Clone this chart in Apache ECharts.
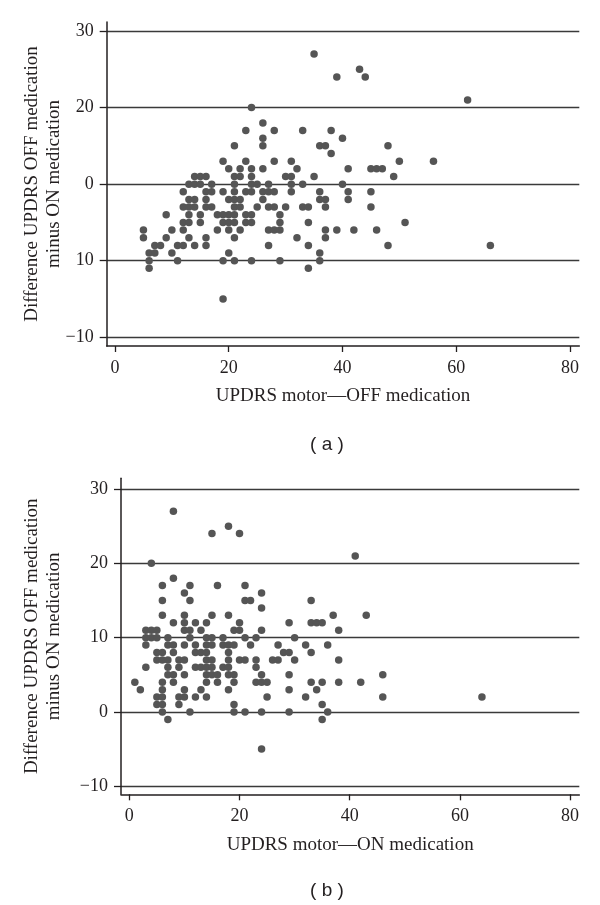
<!DOCTYPE html>
<html><head><meta charset="utf-8">
<script src="https://cdn.jsdelivr.net/npm/echarts@6/dist/echarts.min.js"></script>
<style>html,body{margin:0;padding:0;background:#fff}#c{width:600px;height:905px}</style>
</head><body><div id="c"></div>
<script>
// Tick values and labels
const xTicks = [0, 20, 40, 60, 80];
const yTicks = [-10, 0, 10, 20, 30];
const yTickLabelsA = ['\u221210', '10', '0', '20', '30'];
const yTickLabelsB = ['\u221210', '0', '10', '20', '30'];
const yNameText = 'Difference UPDRS OFF medication\nminus ON medication';
const xNameA = 'UPDRS motor\u2014OFF medication';
const xNameB = 'UPDRS motor\u2014ON medication';
const panelA = '( a )';
const panelB = '( b )';

// Panel (a): UPDRS motor OFF medication vs difference
const offScoreA = [35, 43, 39, 44, 62, 24, 26, 23, 28, 33, 38, 26, 40, 21, 26, 36, 37, 48, 38,
  19, 23, 28, 31, 50, 56, 20, 22, 24, 26, 32, 41, 45, 46, 47,
  14, 15, 16, 21, 22, 24, 30, 31, 35, 49,
  13, 14, 15, 17, 21, 24, 25, 27, 31, 33, 40,
  12, 16, 17, 19, 21, 23, 24, 26, 27, 28, 31, 36, 41, 45,
  13, 14, 16, 20, 21, 22, 26, 36, 37, 41,
  12, 13, 14, 16, 17, 21, 22, 25, 27, 28, 30, 33, 34, 37, 45,
  9, 13, 15, 18, 19, 20, 21, 23, 24, 29,
  12, 13, 15, 19, 20, 21, 23, 24, 29, 34, 51,
  5, 10, 12, 18, 20, 22, 27, 28, 29, 37, 39, 42, 46,
  5, 9, 13, 16, 21, 32, 37,
  7, 8, 11, 12, 14, 16, 27, 34, 48, 66,
  6, 7, 10, 20, 36,
  6, 11, 19, 21, 24, 29, 36,
  6, 34,
  19];
const diffA = [27, 25, 24, 24, 21, 20, 18, 17, 17, 17, 17, 16, 16, 15, 15, 15, 15, 15, 14,
  13, 13, 13, 13, 13, 13, 12, 12, 12, 12, 12, 12, 12, 12, 12,
  11, 11, 11, 11, 11, 11, 11, 11, 11, 11,
  10, 10, 10, 10, 10, 10, 10, 10, 10, 10, 10,
  9, 9, 9, 9, 9, 9, 9, 9, 9, 9, 9, 9, 9, 9,
  8, 8, 8, 8, 8, 8, 8, 8, 8, 8,
  7, 7, 7, 7, 7, 7, 7, 7, 7, 7, 7, 7, 7, 7, 7,
  6, 6, 6, 6, 6, 6, 6, 6, 6, 6,
  5, 5, 5, 5, 5, 5, 5, 5, 5, 5, 5,
  4, 4, 4, 4, 4, 4, 4, 4, 4, 4, 4, 4, 4,
  3, 3, 3, 3, 3, 3, 3,
  2, 2, 2, 2, 2, 2, 2, 2, 2, 2,
  1, 1, 1, 1, 1,
  0, 0, 0, 0, 0, 0, 0,
  -1, -1,
  -5];

// Panel (b): UPDRS motor ON medication vs difference
const onScoreB = [8, 18, 15, 20, 41, 4, 8, 6, 11, 16, 21, 10, 24, 6, 11, 21, 22, 33, 24,
  6, 10, 15, 18, 37, 43, 8, 10, 12, 14, 20, 29, 33, 34, 35,
  3, 4, 5, 10, 11, 13, 19, 20, 24, 38,
  3, 4, 5, 7, 11, 14, 15, 17, 21, 23, 30,
  3, 7, 8, 10, 12, 14, 15, 17, 18, 19, 22, 27, 32, 36,
  5, 6, 8, 12, 13, 14, 18, 28, 29, 33,
  5, 6, 7, 9, 10, 14, 15, 18, 20, 21, 23, 26, 27, 30, 38,
  3, 7, 9, 12, 13, 14, 15, 17, 18, 23,
  7, 8, 10, 14, 15, 16, 18, 19, 24, 29, 46,
  1, 6, 8, 14, 16, 19, 23, 24, 25, 33, 35, 38, 42,
  2, 6, 10, 13, 18, 29, 34,
  5, 6, 9, 10, 12, 14, 25, 32, 46, 64,
  5, 6, 9, 19, 35,
  6, 11, 19, 21, 24, 29, 36,
  7, 35,
  24];
const diffB = [27, 25, 24, 24, 21, 20, 18, 17, 17, 17, 17, 16, 16, 15, 15, 15, 15, 15, 14,
  13, 13, 13, 13, 13, 13, 12, 12, 12, 12, 12, 12, 12, 12, 12,
  11, 11, 11, 11, 11, 11, 11, 11, 11, 11,
  10, 10, 10, 10, 10, 10, 10, 10, 10, 10, 10,
  9, 9, 9, 9, 9, 9, 9, 9, 9, 9, 9, 9, 9, 9,
  8, 8, 8, 8, 8, 8, 8, 8, 8, 8,
  7, 7, 7, 7, 7, 7, 7, 7, 7, 7, 7, 7, 7, 7, 7,
  6, 6, 6, 6, 6, 6, 6, 6, 6, 6,
  5, 5, 5, 5, 5, 5, 5, 5, 5, 5, 5,
  4, 4, 4, 4, 4, 4, 4, 4, 4, 4, 4, 4, 4,
  3, 3, 3, 3, 3, 3, 3,
  2, 2, 2, 2, 2, 2, 2, 2, 2, 2,
  1, 1, 1, 1, 1,
  0, 0, 0, 0, 0, 0, 0,
  -1, -1,
  -5];

const serif = '"Liberation Serif", "DejaVu Serif", serif';
const ink = '#231f20';
const fs = 18;
const nameFs = 19;

function pairs(xs, ys) { return xs.map((x, i) => [x, ys[i]]); }

function xAxisCfg(gridIndex, min, max, name) {
  return {
    type: 'value', gridIndex, min, max,
    axisLine: { show: true, onZero: false, lineStyle: { color: ink, width: 1.5 } },
    axisTick: { show: true, customValues: xTicks, length: 6, lineStyle: { color: ink, width: 1.3 } },
    axisLabel: { customValues: xTicks, margin: 13, fontFamily: serif, fontSize: fs, color: ink },
    splitLine: { show: false },
    name, nameLocation: 'middle', nameGap: 41, nameMoveOverlap: false,
    nameTextStyle: { fontFamily: serif, fontSize: nameFs, color: ink }
  };
}
function yAxisCfg(gridIndex, min, max, labels, gap) {
  return {
    type: 'value', gridIndex, min, max,
    axisLine: { show: true, onZero: false, lineStyle: { color: ink, width: 1.5 } },
    axisTick: { show: true, customValues: yTicks, length: 7, lineStyle: { color: ink, width: 1.3 } },
    axisLabel: {
      customValues: yTicks, margin: 13, fontFamily: serif, fontSize: fs, color: ink,
      formatter: v => { const i = yTicks.indexOf(Math.round(v)); return i >= 0 ? labels[i] : ''; }
    },
    splitLine: { show: true, lineStyle: { color: '#3a3a3a', width: 1.3 } },
    name: yNameText, nameLocation: 'middle', nameGap: gap, nameMoveOverlap: false,
    nameTextStyle: { fontFamily: serif, fontSize: nameFs, lineHeight: 22, color: ink, align: 'center' }
  };
}

const chart = echarts.init(document.getElementById('c'), null, { renderer: 'canvas' });
const panelStyle = { fontFamily: '"Liberation Sans", Arial, sans-serif', fontSize: 19, fontWeight: 'normal', color: ink };
chart.setOption({
  animation: false,
  backgroundColor: '#fff',
  title: [
    { text: panelA, left: 322, top: 430, textAlign: 'center', textStyle: panelStyle },
    { text: panelB, left: 322, top: 876, textAlign: 'center', textStyle: panelStyle }
  ],
  grid: [
    { left: 106.7, top: 22, width: 472.6, height: 324 },
    { left: 121, top: 478.3, width: 458.3, height: 316 }
  ],
  xAxis: [
    xAxisCfg(0, -1.46, 81.64, xNameA),
    xAxisCfg(1, -1.51, 81.67, xNameB)
  ],
  yAxis: [
    yAxisCfg(0, -11.14, 31.18, yTickLabelsA, 42),
    yAxisCfg(1, -11.08, 31.44, yTickLabelsB, 56)
  ],
  series: [
    { type: 'scatter', xAxisIndex: 0, yAxisIndex: 0, data: pairs(offScoreA, diffA), symbolSize: 7.5, itemStyle: { color: '#555555', opacity: 1 } },
    { type: 'scatter', xAxisIndex: 1, yAxisIndex: 1, data: pairs(onScoreB, diffB), symbolSize: 7.5, itemStyle: { color: '#555555', opacity: 1 } }
  ]
});
</script>
</body></html>
